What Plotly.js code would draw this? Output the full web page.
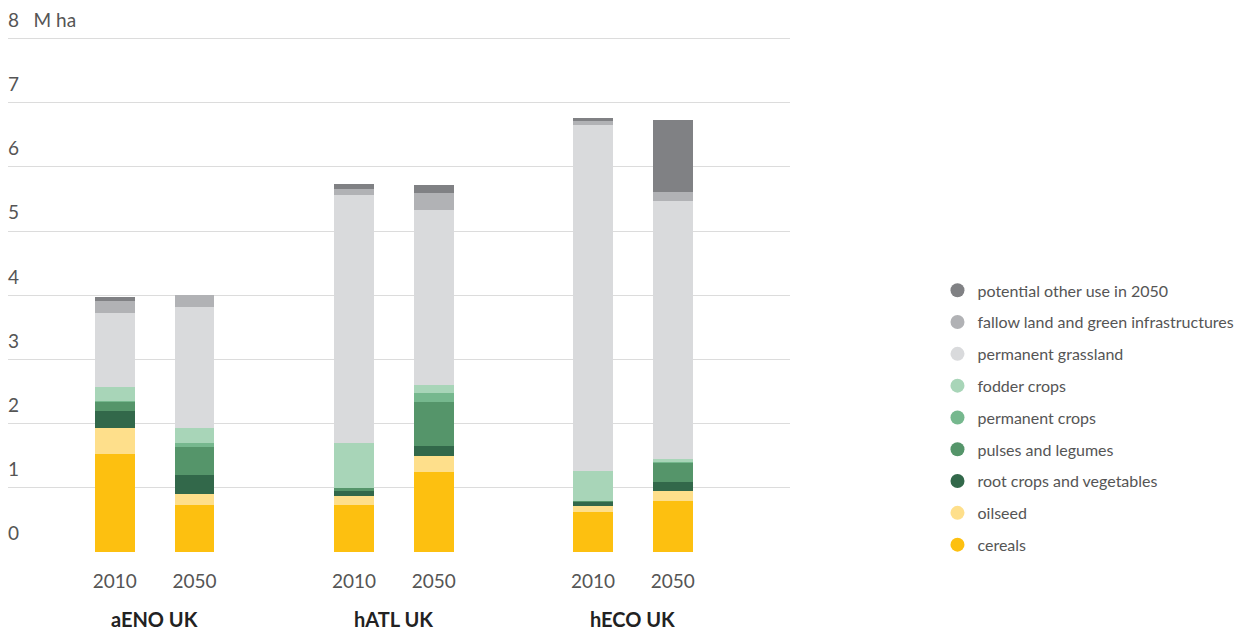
<!DOCTYPE html>
<html>
<head>
<meta charset="utf-8">
<script src="https://cdn.plot.ly/plotly-3.0.1.min.js"></script>
<style>html,body{margin:0;padding:0;background:#fff;}#chart{width:1241px;height:630px;}</style>
</head>
<body>
<div id="chart"></div>
<script>
// ---- data ----
const groups = ['aENO UK', 'hATL UK', 'hECO UK'];
const years = ['2010', '2050'];
const seriesNames = ['cereals', 'oilseed', 'root crops and vegetables', 'pulses and legumes',
  'permanent crops', 'fodder crops', 'permanent grassland', 'fallow land and green infrastructures',
  'potential other use in 2050'];
// bars in order: aENO 2010, aENO 2050, hATL 2010, hATL 2050, hECO 2010, hECO 2050 (M ha)
const cereals    = [1.53, 0.73, 0.73, 1.25, 0.63, 0.79];
const oilseed    = [0.40, 0.17, 0.15, 0.24, 0.08, 0.16];
const rootCrops  = [0.27, 0.30, 0.07, 0.16, 0.07, 0.14];
const pulses     = [0.14, 0.44, 0.04, 0.69, 0.01, 0.30];
const permCrops  = [0.02, 0.06, 0.01, 0.14, 0.00, 0.01];
const fodder     = [0.21, 0.23, 0.70, 0.12, 0.47, 0.05];
const grassland  = [1.16, 1.88, 3.87, 2.73, 5.40, 4.02];
const fallow     = [0.18, 0.19, 0.08, 0.27, 0.05, 0.14];
const otherUse   = [0.07, 0.00, 0.08, 0.12, 0.05, 1.12];
const yTickVals  = [0, 1, 2, 3, 4, 5, 6, 7, 8];
const yTickText  = ['0', '1', '2', '3', '4', '5', '6', '7', '8\u00a0\u00a0\u00a0M ha'];

// ---- styling ----
const colors = ['#fdc010', '#fedf8b', '#32684a', '#55956a', '#76b88e', '#a8d5b8', '#d9dadc', '#b1b2b5', '#808184'];
const seriesValues = [cereals, oilseed, rootCrops, pulses, permCrops, fodder, grassland, fallow, otherUse];

// x positions: groups spaced 3 units apart, years 1 unit apart
const xPos = [];
const xText = [];
groups.forEach((g, gi) => years.forEach((y, yi) => { xPos.push(gi * 3 + yi); xText.push(y); }));

const traces = [];
seriesValues.forEach((vals, i) => {
  traces.push({
    type: 'bar', x: xPos, y: vals, width: 0.5, name: seriesNames[i],
    marker: {color: colors[i], line: {width: 0}}, showlegend: false,
    hoverinfo: 'name+y'
  });
});
// legend entries with round markers, top to bottom: last series first
for (let i = seriesValues.length - 1; i >= 0; i--) {
  traces.push({
    type: 'scatter', mode: 'markers', x: [null], y: [null], name: seriesNames[i],
    legendgroup: 'g' + i,
    marker: {color: colors[i], size: 14, symbol: 'circle'}, showlegend: true
  });
}

const font = 'Lato, "Open Sans", sans-serif';
const layout = {
  width: 1241, height: 630,
  margin: {l: 8, r: 451, t: 36, b: 78, autoexpand: false},
  barmode: 'stack',
  paper_bgcolor: '#fff', plot_bgcolor: '#fff',
  font: {family: font, color: '#555'},
  xaxis: {
    range: [-1.34, 8.47], tickvals: xPos, ticktext: xText,
    showgrid: false, zeroline: false, showline: false, ticks: '',
    tickfont: {size: 19, color: '#555', family: font},
    ticklabelstandoff: 16, fixedrange: true
  },
  yaxis: {
    range: [0, 8.04], tickvals: yTickVals, ticktext: yTickText,
    showgrid: true, gridcolor: '#dcdcdc', gridwidth: 1,
    zeroline: false, showline: false, ticks: '',
    ticklabelposition: 'inside top', ticklabeloverflow: 'allow',
    ticklabelshift: -5, ticklabelstandoff: -3,
    tickfont: {size: 19, color: '#555', family: font}, fixedrange: true
  },
  legend: {
    x: 1.1886, xanchor: 'left', y: 0.540, yanchor: 'top',
    traceorder: 'grouped', tracegroupgap: 8,
    font: {size: 16, color: '#555', family: font},
    bgcolor: 'rgba(0,0,0,0)'
  },
  annotations: groups.map((g, gi) => ({
    text: '<b>' + g + '</b>', x: gi * 3 + 0.5, xref: 'x', y: -0.129, yref: 'paper',
    xanchor: 'center', yanchor: 'middle', showarrow: false,
    font: {size: 20, color: '#222', family: font}
  }))
};

Plotly.newPlot('chart', traces, layout, {displayModeBar: false, staticPlot: true});
</script>
</body>
</html>
